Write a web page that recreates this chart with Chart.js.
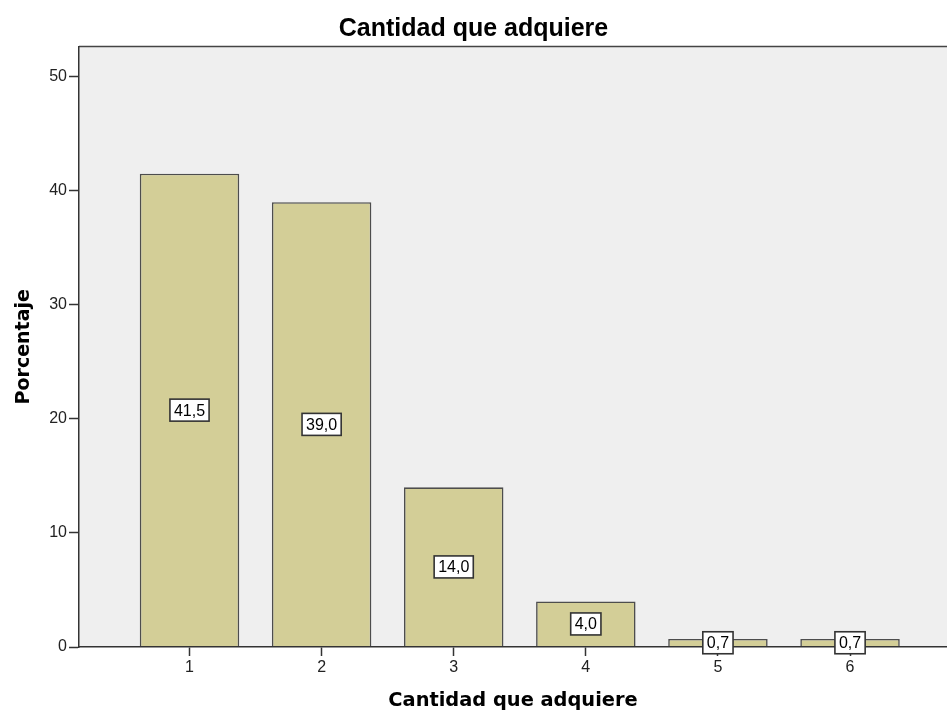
<!DOCTYPE html>
<html>
<head>
<meta charset="utf-8">
<script src="https://cdn.jsdelivr.net/npm/chart.js@4"></script>
<style>
  body { margin: 0; background: #fff; }
  #wrap { width: 947px; height: 716px; }
</style>
</head>
<body>
<div id="wrap"><canvas id="barChart"></canvas></div>
<script>
// datos del gráfico
const categories = ['1', '2', '3', '4', '5', '6'];
const percentages = [41.5, 39.0, 14.0, 4.0, 0.7, 0.7];
const valueLabels = ['41,5', '39,0', '14,0', '4,0', '0,7', '0,7'];
const yTicks = [0, 10, 20, 30, 40, 50];

// fondo gris del área y borde superior
const plotFrame = {
    id: 'plotFrame',
    beforeDraw(chart) {
        const { ctx, chartArea: a } = chart;
        ctx.save();
        ctx.fillStyle = '#efefef';
        ctx.fillRect(a.left, a.top, a.right - a.left, a.bottom - a.top);
        ctx.restore();
    },
    afterDatasetsDraw(chart) {
        const { ctx, chartArea: a } = chart;
        ctx.save();
        ctx.strokeStyle = '#444';
        ctx.lineWidth = 1.5;
        ctx.beginPath();
        ctx.moveTo(a.left, a.top);
        ctx.lineTo(a.right, a.top);
        ctx.stroke();
        ctx.restore();
    }
};

// etiquetas con caja blanca en el centro de cada barra
const boxLabels = {
    id: 'boxLabels',
    afterDraw(chart) {
        const ctx = chart.ctx;
        const meta = chart.getDatasetMeta(0);
        ctx.save();
        ctx.font = '16px "Liberation Sans", Arial, sans-serif';
        ctx.textAlign = 'center';
        ctx.textBaseline = 'middle';
        meta.data.forEach((bar, i) => {
            const txt = valueLabels[i];
            const cx = bar.x;
            const cy = (bar.y + bar.base) / 2;
            const w = ctx.measureText(txt).width + 8;
            const h = 22;
            ctx.fillStyle = '#fff';
            ctx.fillRect(cx - w / 2, cy - h / 2, w, h);
            ctx.strokeStyle = '#333';
            ctx.lineWidth = 1.6;
            ctx.strokeRect(cx - w / 2, cy - h / 2, w, h);
            ctx.fillStyle = '#000';
            ctx.fillText(txt, cx, cy + 1);
        });
        ctx.restore();
    }
};

const ctx = document.getElementById('barChart').getContext('2d');
new Chart(ctx, {
    type: 'bar',
    data: {
        datasets: [{
            label: 'Porcentaje',
            data: categories.map((c, i) => ({ x: Number(c), y: percentages[i] })),
            backgroundColor: '#d3ce97',
            borderColor: '#4d4d4d',
            borderWidth: 1.6,
            categoryPercentage: 1,
            barPercentage: 0.753
        }]
    },
    options: {
        responsive: true,
        maintainAspectRatio: false,
        animation: false,
        layout: { padding: 0 },
        plugins: {
            legend: { display: false },
            tooltip: { enabled: false },
            title: {
                display: true,
                text: 'Cantidad que adquiere',
                color: '#000',
                font: { family: '"Liberation Sans", Arial, sans-serif', size: 25, weight: 'bold' },
                padding: { top: 14, bottom: 2.5 }
            }
        },
        scales: {
            x: {
                type: 'linear',
                offset: false,
                min: 0.1635,
                max: 6.734,
                afterBuildTicks: s => { s.ticks = categories.map(c => ({ value: Number(c) })); },
                afterFit: s => { s.height = 69; },
                ticks: {
                    color: '#222',
                    padding: 2,
                    font: { family: '"Liberation Sans", Arial, sans-serif', size: 16 },
                    callback: v => categories[categories.indexOf(String(v))]
                },
                grid: { offset: false, drawOnChartArea: false, tickLength: 9, tickColor: '#333', tickWidth: 1.5 },
                border: { color: '#333', width: 1.5, z: 1 },
                title: {
                    display: true,
                    text: 'Cantidad que adquiere',
                    color: '#000',
                    font: { family: '"DejaVu Sans", Verdana, sans-serif', size: 19.4, weight: 'bold' },
                    padding: { top: 0, bottom: 3.4 }
                }
            },
            y: {
                min: 0,
                max: 52.66,
                afterBuildTicks: s => { s.ticks = yTicks.map(v => ({ value: v })); },
                afterFit: s => { s.width = 79; },
                ticks: {
                    color: '#222',
                    padding: 2,
                    font: { family: '"Liberation Sans", Arial, sans-serif', size: 16 }
                },
                grid: { drawOnChartArea: false, tickLength: 10, tickColor: '#333', tickWidth: 1.5 },
                border: { color: '#333', width: 1.5, z: 1 },
                title: {
                    display: true,
                    text: 'Porcentaje',
                    color: '#000',
                    font: { family: '"DejaVu Sans", Verdana, sans-serif', size: 19, weight: 'bold' },
                    padding: { top: 12.4, bottom: 0 }
                }
            }
        }
    },
    plugins: [plotFrame, boxLabels]
});
</script>
</body>
</html>
